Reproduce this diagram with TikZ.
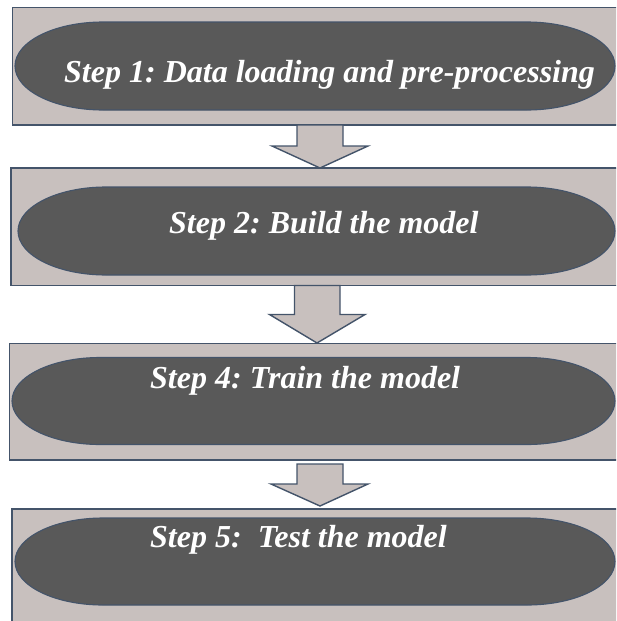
\documentclass[tikz,border=0pt]{standalone}
\usepackage{fontspec}
\setmainfont{Liberation Serif}
\definecolor{panelfill}{RGB}{200,192,190}
\definecolor{edgeblue}{RGB}{68,84,106}
\definecolor{ovalfill}{RGB}{89,89,89}
\frenchspacing
\begin{document}
\begin{tikzpicture}[x=1pt,y=-1pt,
  panel/.style={draw=edgeblue,fill=panelfill,line width=1.4pt,rectangle,anchor=north west,inner sep=0pt,outer sep=0pt},
  oval/.style={draw=edgeblue,fill=ovalfill,line width=1.1pt},
  blockarrow/.style={draw=edgeblue,fill=panelfill,line width=1.4pt,line join=miter},
  steptext/.style={text=white,font=\fontsize{32}{38}\selectfont\bfseries\itshape,anchor=base west,inner sep=0pt}]
\useasboundingbox (0,0) rectangle (616,621);
\clip (0,0) rectangle (616,621);

% panels
\node[panel,minimum width=630pt,minimum height=117.5pt] (box1) at (12.5,7.5) {};
\node[panel,minimum width=630pt,minimum height=117.5pt] (box2) at (11,168) {};
\node[panel,minimum width=630pt,minimum height=116.5pt] (box3) at (9.5,343.5) {};
\node[panel,minimum width=630pt,minimum height=130pt] (box4) at (12,509) {};

% rounded step ovals (elliptical caps)
\def\rx{88}
\draw[oval] (15+\rx,22) -- (615-\rx,22)
  arc[start angle=-90,end angle=90,x radius=\rx,y radius=44] -- (15+\rx,110)
  arc[start angle=90,end angle=270,x radius=\rx,y radius=44] -- cycle;
\draw[oval] (18+\rx,187) -- (615-\rx,187)
  arc[start angle=-90,end angle=90,x radius=\rx,y radius=44] -- (18+\rx,275)
  arc[start angle=90,end angle=270,x radius=\rx,y radius=44] -- cycle;
\draw[oval] (12+\rx,357.5) -- (615-\rx,357.5)
  arc[start angle=-90,end angle=90,x radius=\rx,y radius=43.5] -- (12+\rx,444.5)
  arc[start angle=90,end angle=270,x radius=\rx,y radius=43.5] -- cycle;
\draw[oval] (15+\rx,518) -- (615-\rx,518)
  arc[start angle=-90,end angle=90,x radius=\rx,y radius=43.5] -- (15+\rx,605)
  arc[start angle=90,end angle=270,x radius=\rx,y radius=43.5] -- cycle;

% step labels
\node[steptext] (s1) at (64,82) {Step 1: Data loading and pre-processing};
\node[steptext] (s2) at (169,233) {Step 2: Build the model};
\node[steptext] (s4) at (150,388) {Step 4: Train the model};
\node[steptext] (s5) at (150,547) {Step 5:\ \ Test the model};

% block arrows between panels
\draw[blockarrow] (297,125) -- (343,125) -- (343,146) -- (368,146) -- (320,168)
  -- (272,146) -- (297,146) -- cycle;
\draw[blockarrow] (294.5,285.5) -- (340,285.5) -- (340,314.5) -- (365,314.5) -- (317,343)
  -- (269.5,314.5) -- (294.5,314.5) -- cycle;
\draw[blockarrow] (297,464) -- (343,464) -- (343,484) -- (368,484) -- (320,506)
  -- (271,484) -- (297,484) -- cycle;
\end{tikzpicture}
\end{document}
